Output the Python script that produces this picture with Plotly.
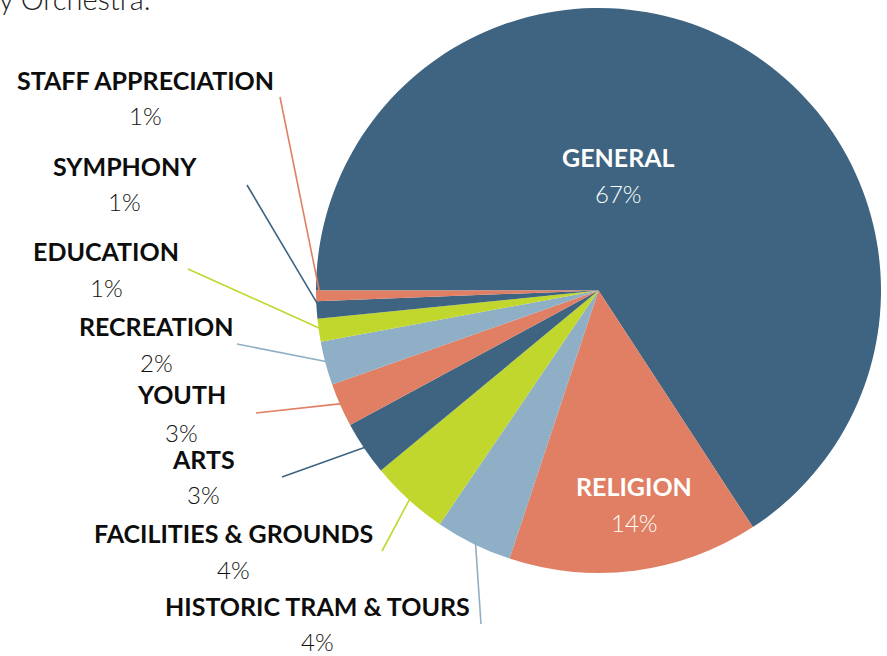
import math
import plotly.graph_objects as go

W, H = 887, 656

# slice data, clockwise from 9 o'clock
categories = ["GENERAL", "RELIGION", "HISTORIC TRAM & TOURS", "FACILITIES & GROUNDS",
              "ARTS", "YOUTH", "RECREATION", "EDUCATION", "SYMPHONY", "STAFF APPRECIATION"]
values = [65.8, 14.3, 4.4, 4.5, 3.1, 2.5, 2.5, 1.3, 1.0, 0.6]
pct_labels = ["67%", "14%", "4%", "4%", "3%", "3%", "2%", "1%", "1%", "1%"]

DARK = "#3E6481"
SALMON = "#E07F63"
LIGHT = "#8EAFC6"
LIME = "#C1D72E"
colors = [DARK, SALMON, LIGHT, LIME, DARK, SALMON, LIGHT, LIME, DARK, SALMON]

# pie geometry in pixels
cx, cy, r = 598.5, 290.5, 282.5

# label placement (pixels): name centre x, name y, pct y, inside?, leader line start
label_pos = {
    "GENERAL": (618, 157, 193, True, None),
    "RELIGION": (634, 486, 522, True, None),
    "HISTORIC TRAM & TOURS": (317, 606, 641, False, (481, 624)),
    "FACILITIES & GROUNDS": (234, 533, 569, False, (382, 551)),
    "ARTS": (203, 459, 494, False, (282, 477)),
    "YOUTH": (181, 394, 432, False, (256, 413)),
    "RECREATION": (156, 326, 362, False, (237, 344)),
    "EDUCATION": (106, 251, 288, False, (188, 269)),
    "SYMPHONY": (125, 166, 202, False, (247, 185)),
    "STAFF APPRECIATION": (145, 80, 116, False, (280, 97)),
}


def px(x):
    return x / W


def py(y):
    return 1 - y / H


fig = go.Figure(
    go.Pie(
        labels=categories,
        values=values,
        sort=False,
        direction="clockwise",
        rotation=270,
        marker=dict(colors=colors, line=dict(width=0)),
        textinfo="none",
        hoverinfo="label+percent",
        showlegend=False,
        domain=dict(x=[px(cx - r), px(cx + r)], y=[py(cy + r), py(cy - r)]),
    )
)

bold_font = dict(family="Lato", size=25, color="#0d0d0d", weight=700)
pct_font = dict(family="Lato", size=24, color="#111111", weight=300)

total = sum(values)
cum = 0
for name, val, pct, col in zip(categories, values, pct_labels, colors):
    mid = (cum + val / 2) / total * 360  # degrees clockwise from 9 o'clock
    cum += val
    lx, ly, pyy, inside, start = label_pos[name]
    fc = "white" if inside else None
    fig.add_annotation(x=px(lx), y=py(ly), xref="paper", yref="paper", showarrow=False,
                       xanchor="center", yanchor="middle",
                       text=f"<b>{name}</b>",
                       font=dict(bold_font, color=fc or bold_font["color"]))
    fig.add_annotation(x=px(lx), y=py(pyy), xref="paper", yref="paper", showarrow=False,
                       xanchor="center", yanchor="middle",
                       text=pct,
                       font=dict(pct_font, color=fc or pct_font["color"]))
    if start:
        a = math.radians(mid)
        ex = cx - 0.985 * r * math.cos(a)
        ey = cy - 0.985 * r * math.sin(a)
        fig.add_shape(type="line", xref="paper", yref="paper",
                      x0=px(start[0]), y0=py(start[1]), x1=px(ex), y1=py(ey),
                      line=dict(color=col, width=1.6))

# tail of the preceding paragraph, cut off at the top edge
fig.add_annotation(x=px(-3), y=py(18), xref="paper", yref="paper", showarrow=False,
                   xanchor="left", yanchor="bottom", text="y Orchestra.",
                   font=dict(family="Lato", size=29, color="#222222", weight=300))

fig.update_layout(
    width=W, height=H,
    margin=dict(l=0, r=0, t=0, b=0),
    paper_bgcolor="white",
    plot_bgcolor="white",
)

# drop the browser's default 8px body margin so the figure fills the window
fig.write_html("out.html", config={"displayModeBar": False},
               post_script="document.body.style.margin='0';")
